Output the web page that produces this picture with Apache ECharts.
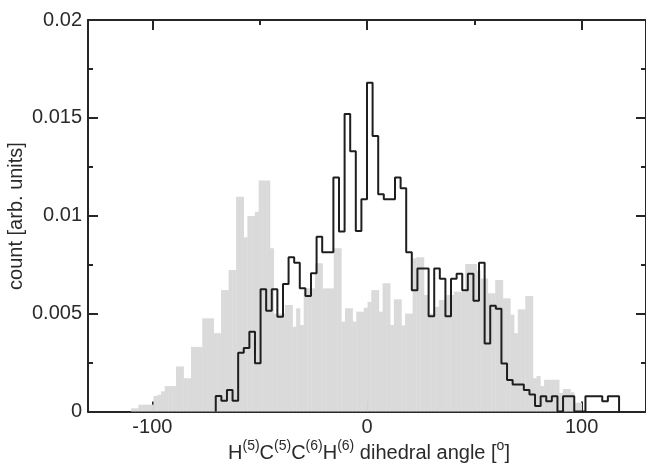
<!DOCTYPE html>
<html><head><meta charset="utf-8">
<script src="https://cdn.jsdelivr.net/npm/echarts@6/dist/echarts.min.js"></script>
<style>html,body{margin:0;padding:0;background:#fff}#c{width:646px;height:465px}</style>
</head><body><div id="c"></div>
<script>
// ---- axes ----
const xMin = -130, xMax = 130;
const xMajorTicks = [-100, 0, 100];
const xMinorTicks = [-50, 50];
const yMin = 0, yMax = 0.02, yStep = 0.005;

// ---- grey filled histogram (1.75 deg bins from -110 deg) ----
const grayBinStart = -110;
const grayBinWidth = 1.75;
const grayCounts = [
  0.00016, 0.00016, 0.00035, 0.00035, 0.00035, 0.00035,
  0.00079, 0.00085, 0.00103, 0.0013, 0.0013, 0.0013,
  0.0023, 0.0023, 0.0017, 0.0017, 0.0033, 0.0033,
  0.0033, 0.00476, 0.00476, 0.00476, 0.0040, 0.0040,
  0.0062, 0.0062, 0.00723, 0.00723, 0.01097, 0.01097,
  0.0089, 0.00999, 0.00999, 0.0102, 0.0118, 0.0118,
  0.0118, 0.00834, 0.0050, 0.0050, 0.0050, 0.00544,
  0.00544, 0.00433, 0.00527, 0.00442, 0.00629, 0.00629,
  0.00629, 0.00757, 0.00757, 0.00629, 0.00629, 0.00629,
  0.00834, 0.00834, 0.00459, 0.00527, 0.00527, 0.00459,
  0.0051, 0.0051, 0.0053, 0.0056, 0.0062, 0.0062,
  0.0051, 0.00655, 0.00655, 0.00442, 0.00573, 0.00573,
  0.0044, 0.0050, 0.0050, 0.00783, 0.00788, 0.00788,
  0.00595, 0.0050, 0.0050, 0.00535, 0.0057, 0.0057,
  0.00595, 0.00595, 0.00612, 0.00612, 0.00612, 0.00753,
  0.00753, 0.00753, 0.0072, 0.0068, 0.0068, 0.00604,
  0.00604, 0.00672, 0.00672, 0.00578, 0.00578, 0.00495,
  0.0040, 0.00522, 0.00522, 0.0059, 0.0059, 0.0017,
  0.00181, 0.0013, 0.00162, 0.00162, 0.00162, 0.00162,
  0.00095, 0.00115, 0.00115, 0.00098, 0.00045, 0.00045
];

// ---- black outline histogram (2.61 deg bins from -70.47 deg) ----
const blackBinStart = -70.47;
const blackBinWidth = 2.61;
const blackCounts = [
  0.00079, 0.00055, 0.00110, 0.00055, 0.0030, 0.00325, 0.00408, 0.00246, 0.00624,
  0.00515, 0.00624, 0.00484, 0.00651, 0.00788, 0.0076, 0.00629, 0.0059, 0.00706,
  0.00893, 0.00813, 0.00813, 0.01196, 0.00919, 0.0152, 0.0133, 0.00922, 0.01084,
  0.0168, 0.01407, 0.0111, 0.01084, 0.01084, 0.01196, 0.0114, 0.00813, 0.0062,
  0.00731, 0.00731, 0.00486, 0.00731, 0.00678, 0.00486, 0.00678, 0.00704, 0.0062,
  0.00704, 0.00566, 0.0076, 0.00348, 0.0054, 0.00525, 0.00245, 0.00161, 0.00138,
  0.00138, 0.0011, 0.00087, 0.00028, 0.00078, 0.00052, 0.00078, 0, 0.00078,
  0.00078, 0, 0, 0.00078, 0.00078, 0.00078, 0.00052, 0.00078, 0.00078
];

// ---- text ----
const yName = 'count [arb. units]';
const xNameRich = '{b|H}{s|(5)}{b|C}{s|(5)}{b|C}{s|(6)}{b|H}{s|(6)}{b| dihedral angle [}{s|o}{b|]}';

const FONT = '"Liberation Sans", Arial, Helvetica, sans-serif';
const AX = '#262626';

const grayData = grayCounts.map((v, i) => [grayBinStart + i * grayBinWidth, grayBinStart + (i + 1) * grayBinWidth, v]);
const blackPts = [[blackBinStart, 0]];
blackCounts.forEach((v, i) => blackPts.push([blackBinStart + i * blackBinWidth, v]));
blackPts.push([blackBinStart + blackCounts.length * blackBinWidth, 0]);

function xAxisDef(pos, ticks, len, showLine, showLabel) {
  return {
    type: 'value', min: xMin, max: xMax, position: pos,
    axisLine: { show: showLine, onZero: false, lineStyle: { color: AX, width: 2 } },
    axisTick: { show: true, inside: true, length: len, customValues: ticks, lineStyle: { color: AX, width: 2 } },
    axisLabel: { show: showLabel, customValues: ticks, margin: 6, fontSize: 20, fontFamily: FONT, color: '#2a2a2a' },
    splitLine: { show: false }
  };
}
function yAxisDef(pos, showLabel) {
  return {
    type: 'value', min: yMin, max: yMax, interval: yStep, position: pos,
    axisLine: { show: true, onZero: false, lineStyle: { color: AX, width: 2 } },
    axisTick: { show: true, inside: true, length: 10, lineStyle: { color: AX, width: 2 } },
    minorTick: { show: true, splitNumber: 2, length: 5, lineStyle: { color: AX, width: 2 } },
    axisLabel: { show: showLabel, margin: 6, fontSize: 20, fontFamily: FONT, color: '#2a2a2a',
      formatter: v => String(+v.toFixed(4)) },
    splitLine: { show: false }
  };
}

const chart = echarts.init(document.getElementById('c'), null, { renderer: 'canvas' });
chart.setOption({
  animation: false,
  backgroundColor: '#ffffff',
  grid: { left: 88, right: -2, top: 20, bottom: 53.5, containLabel: false },
  xAxis: [
    xAxisDef('bottom', xMajorTicks, 10, true, true),
    xAxisDef('bottom', xMinorTicks, 5, false, false),
    xAxisDef('top', xMajorTicks, 10, true, false),
    xAxisDef('top', xMinorTicks, 5, false, false)
  ],
  yAxis: [yAxisDef('left', true), yAxisDef('right', false)],
  series: [
    {
      type: 'custom', xAxisIndex: 0, yAxisIndex: 0, data: grayData,
      encode: { x: [0, 1], y: 2 }, z: 1,
      renderItem: function (params, api) {
        const p0 = api.coord([api.value(0), api.value(2)]);
        const p1 = api.coord([api.value(1), 0]);
        return { type: 'rect', shape: { x: p0[0], y: p0[1], width: p1[0] - p0[0] + 0.4, height: p1[1] - p0[1] },
          style: { fill: '#dadada' } };
      }
    },
    {
      type: 'line', xAxisIndex: 0, yAxisIndex: 0, data: blackPts, step: 'end', z: 3,
      symbol: 'none', lineStyle: { color: '#1e1e1e', width: 2 }
    }
  ],
  graphic: [
    { type: 'text', x: 16, y: 216, rotation: Math.PI / 2,
      style: { text: yName, font: '20px ' + FONT, fill: '#2a2a2a', align: 'center', verticalAlign: 'middle',
        textAlign: 'center', textVerticalAlign: 'middle' } },
    { type: 'text', x: 369, y: 451,
      style: { text: xNameRich, fill: '#2a2a2a', align: 'center', verticalAlign: 'middle',
        textAlign: 'center', textVerticalAlign: 'middle',
        rich: {
          b: { fontSize: 20, fontFamily: FONT, fill: '#2a2a2a', color: '#2a2a2a', lineHeight: 24, verticalAlign: 'bottom' },
          s: { fontSize: 14, fontFamily: FONT, fill: '#2a2a2a', color: '#2a2a2a', lineHeight: 24, verticalAlign: 'top' }
        } } }
  ]
});
</script></body></html>
